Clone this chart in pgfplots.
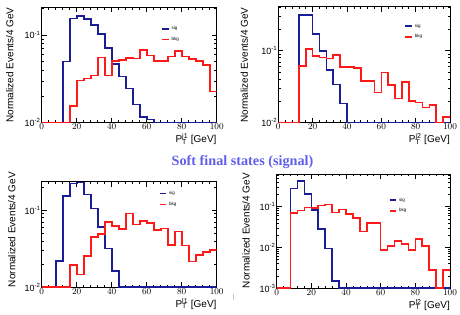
\documentclass[border=0pt]{standalone}
\usepackage{fontspec}
\setmainfont{Liberation Sans}
\newfontfamily\titlefont{Liberation Serif}
\usepackage{pgfplots}
\pgfplotsset{compat=1.18}
\definecolor{sigc}{RGB}{25,30,150}
\definecolor{bkgc}{RGB}{255,25,25}
\definecolor{titc}{RGB}{95,95,235}
\begin{document}
\begin{tikzpicture}[x=1pt,y=1pt]
\path[use as bounding box] (0,0) rectangle (460,315);
% Panel 1
\begin{axis}[scale only axis, ymode=log, xmin=0, xmax=100,
  xtick={0,20,...,100}, minor x tick num=4,
  tick align=inside, xtick pos=both, ytick pos=both,
  xticklabel pos=lower, yticklabel pos=left,
  major tick length=5pt, minor tick length=2.5pt,
  axis line style={line width=0.8pt},
  tick style={line width=0.6pt, black},
  tick label style={font=\fontsize{9}{10}\selectfont},
  xticklabel style={inner sep=0.8pt},
  yticklabel style={inner sep=1pt},
  minor ytick={0.02,0.03,0.04,0.05,0.06,0.07,0.08,0.09,0.2},
  label style={font=\fontsize{10}{12}\selectfont},
  xlabel style={at={(axis description cs:1,0)}, anchor=north east, inner sep=0pt, yshift=-11pt},
  ylabel style={at={(axis description cs:-0.16,0)}, anchor=south west, inner sep=0pt},
  ylabel={Normalized Events/4 GeV},
  legend style={draw=none, fill=none, inner sep=0pt, font=\fontsize{4.5}{5}\selectfont, row sep=2pt, at={(0.683,0.853)}, anchor=north west},
  legend cell align=left,
  legend image code/.code={\draw[#1, line width=1.5pt] (0pt,0pt) -- (6.7pt,0pt);},
  at={(41.7pt,307.7pt)}, anchor=north west, width=175pt, height=115.4pt,
  ymin=0.01, ymax=0.207, ytick={0.01,0.1}, yticklabels={10\textsuperscript{-2},10\textsuperscript{-1}},
  xlabel={P\makebox[0pt][l]{\textsubscript{T}}\textsuperscript{j1} [GeV]}]
\addplot[const plot mark left, sigc, line width=1.6pt, mark=none] coordinates {(0,0.01)(4,0.01)(8,0.01)(12,0.0497)(16,0.155)(20,0.166)(24,0.152)(28,0.130)(32,0.103)(36,0.0716)(40,0.0464)(44,0.0335)(48,0.0246)(52,0.0162)(56,0.0117)(60,0.0109)(64,0.01)(68,0.01)(72,0.01)(76,0.01)(80,0.01)(84,0.01)(88,0.01)(92,0.01)(96,0.01)(100,0.01)};
\addlegendentry{sig}
\addplot[const plot mark left, bkgc, line width=1.6pt, mark=none] coordinates {(0,0.01)(4,0.01)(8,0.01)(12,0.01)(16,0.0156)(20,0.0304)(24,0.0318)(28,0.0347)(32,0.0556)(36,0.0344)(40,0.0505)(44,0.0519)(48,0.0551)(52,0.0537)(56,0.0674)(60,0.0586)(64,0.0505)(68,0.0505)(72,0.0566)(76,0.0662)(80,0.0566)(84,0.0533)(88,0.0505)(92,0.0455)(96,0.0226)(100,0.0226)};
\addlegendentry{bkg}
\end{axis}
% Panel 2
\begin{axis}[scale only axis, ymode=log, xmin=0, xmax=100,
  xtick={0,20,...,100}, minor x tick num=4,
  tick align=inside, xtick pos=both, ytick pos=both,
  xticklabel pos=lower, yticklabel pos=left,
  major tick length=5pt, minor tick length=2.5pt,
  axis line style={line width=0.8pt},
  tick style={line width=0.6pt, black},
  tick label style={font=\fontsize{9}{10}\selectfont},
  xticklabel style={inner sep=0.8pt},
  yticklabel style={inner sep=1pt},
  minor ytick={0.02,0.03,0.04,0.05,0.06,0.07,0.08,0.09,0.2,0.3,0.4},
  label style={font=\fontsize{10}{12}\selectfont},
  xlabel style={at={(axis description cs:1,0)}, anchor=north east, inner sep=0pt, yshift=-11pt},
  ylabel style={at={(axis description cs:-0.175,0)}, anchor=south west, inner sep=0pt},
  ylabel={Normalized Events/4 GeV},
  legend style={draw=none, fill=none, inner sep=0pt, font=\fontsize{4.5}{5}\selectfont, row sep=2pt, at={(0.735,0.872)}, anchor=north west},
  legend cell align=left,
  legend image code/.code={\draw[#1, line width=1.5pt] (0pt,0pt) -- (6.7pt,0pt);},
  at={(278.3pt,308.3pt)}, anchor=north west, width=171.7pt, height=116pt,
  ymin=0.01, ymax=0.41, ytick={0.01,0.1}, yticklabels={10\textsuperscript{-2},10\textsuperscript{-1}},
  xlabel={P\makebox[0pt][l]{\textsubscript{T}}\textsuperscript{j2} [GeV]}]
\addplot[const plot mark left, sigc, line width=1.6pt, mark=none] coordinates {(0,0.01)(4,0.01)(8,0.01)(12,0.313)(16,0.313)(20,0.170)(24,0.099)(28,0.0539)(32,0.0341)(36,0.0186)(40,0.01)(44,0.01)(48,0.01)(52,0.01)(56,0.01)(60,0.01)(64,0.01)(68,0.01)(72,0.01)(76,0.01)(80,0.01)(84,0.01)(88,0.01)(92,0.01)(96,0.01)(100,0.01)};
\addlegendentry{sig}
\addplot[const plot mark left, bkgc, line width=1.6pt, mark=none] coordinates {(0,0.01)(4,0.01)(8,0.01)(12,0.0619)(16,0.105)(20,0.0843)(24,0.0808)(28,0.078)(32,0.087)(36,0.060)(40,0.060)(44,0.0574)(48,0.038)(52,0.038)(56,0.0264)(60,0.050)(64,0.0334)(68,0.0218)(72,0.0371)(76,0.0202)(80,0.019)(84,0.0162)(88,0.0176)(92,0.01)(96,0.0119)(100,0.0119)};
\addlegendentry{bkg}
\end{axis}
% Title
\node[font=\titlefont\bfseries\fontsize{14.2}{16}\selectfont, text=titc] at (242.5,153.3) {Soft final states (signal)};
% Panel 3
\begin{axis}[scale only axis, ymode=log, xmin=0, xmax=100,
  xtick={0,20,...,100}, minor x tick num=4,
  tick align=inside, xtick pos=both, ytick pos=both,
  xticklabel pos=lower, yticklabel pos=left,
  major tick length=5pt, minor tick length=2.5pt,
  axis line style={line width=0.8pt},
  tick style={line width=0.6pt, black},
  tick label style={font=\fontsize{9}{10}\selectfont},
  xticklabel style={inner sep=0.8pt},
  yticklabel style={inner sep=1pt},
  minor ytick={0.02,0.03,0.04,0.05,0.06,0.07,0.08,0.09,0.2},
  label style={font=\fontsize{10}{12}\selectfont},
  xlabel style={at={(axis description cs:1,0)}, anchor=north east, inner sep=0pt, yshift=-11pt},
  ylabel style={at={(axis description cs:-0.149,0)}, anchor=south west, inner sep=0pt},
  ylabel={Normalized Events/4 GeV},
  legend style={draw=none, fill=none, inner sep=0pt, font=\fontsize{4.5}{5}\selectfont, row sep=2pt, at={(0.669,0.931)}, anchor=north west},
  legend cell align=left,
  legend image code/.code={\draw[#1, line width=1.5pt] (0pt,0pt) -- (6.7pt,0pt);},
  at={(41.7pt,133.3pt)}, anchor=north west, width=175pt, height=105.6pt,
  ymin=0.01, ymax=0.233, ytick={0.01,0.1}, yticklabels={10\textsuperscript{-2},10\textsuperscript{-1}},
  xlabel={P\makebox[0pt][l]{\textsubscript{T}}\textsuperscript{l1} [GeV]}]
\addplot[const plot mark left, sigc, line width=1.6pt, mark=none] coordinates {(0,0.01)(4,0.01)(8,0.0219)(12,0.152)(16,0.221)(20,0.228)(24,0.159)(28,0.105)(32,0.0609)(36,0.0319)(40,0.0163)(44,0.01)(48,0.01)(52,0.01)(56,0.01)(60,0.01)(64,0.01)(68,0.01)(72,0.01)(76,0.01)(80,0.01)(84,0.01)(88,0.01)(92,0.01)(96,0.01)(100,0.01)};
\addlegendentry{sig}
\addplot[const plot mark left, bkgc, line width=1.6pt, mark=none] coordinates {(0,0.01)(4,0.01)(8,0.01)(12,0.01)(16,0.0194)(20,0.0147)(24,0.0254)(28,0.0448)(32,0.049)(36,0.0706)(40,0.0627)(44,0.0568)(48,0.0906)(52,0.0653)(56,0.0721)(60,0.0686)(64,0.0551)(68,0.058)(72,0.0353)(76,0.0525)(80,0.0346)(84,0.0215)(88,0.0262)(92,0.0284)(96,0.0304)(100,0.0304)};
\addlegendentry{bkg}
\end{axis}
% Panel 4
\begin{axis}[scale only axis, ymode=log, xmin=0, xmax=100,
  xtick={0,20,...,100}, minor x tick num=4,
  tick align=inside, xtick pos=both, ytick pos=both,
  xticklabel pos=lower, yticklabel pos=left,
  major tick length=5pt, minor tick length=2.5pt,
  axis line style={line width=0.8pt},
  tick style={line width=0.6pt, black},
  tick label style={font=\fontsize{9}{10}\selectfont},
  xticklabel style={inner sep=0.8pt},
  yticklabel style={inner sep=1pt},
  minor ytick={0.002,0.003,0.004,0.005,0.006,0.007,0.008,0.009,0.02,0.03,0.04,0.05,0.06,0.07,0.08,0.09,0.2,0.3,0.4,0.5,0.6},
  label style={font=\fontsize{10}{12}\selectfont},
  xlabel style={at={(axis description cs:1,0)}, anchor=north east, inner sep=0pt, yshift=-11pt},
  ylabel style={at={(axis description cs:-0.154,0)}, anchor=south west, inner sep=0pt},
  ylabel={Normalized Events/4 GeV},
  legend style={draw=none, fill=none, inner sep=0pt, font=\fontsize{4.5}{5}\selectfont, row sep=2pt, at={(0.647,0.811)}, anchor=north west},
  legend cell align=left,
  legend image code/.code={\draw[#1, line width=1.5pt] (0pt,0pt) -- (6.7pt,0pt);},
  at={(276.7pt,141pt)}, anchor=north west, width=173.3pt, height=114.3pt,
  ymin=0.001, ymax=0.63, ytick={0.001,0.01,0.1}, yticklabels={10\textsuperscript{-3},10\textsuperscript{-2},10\textsuperscript{-1}},
  xlabel={P\makebox[0pt][l]{\textsubscript{T}}\textsuperscript{l2} [GeV]}]
\addplot[const plot mark left, sigc, line width=1.6pt, mark=none] coordinates {(0,0.001)(4,0.001)(8,0.281)(12,0.425)(16,0.204)(20,0.0828)(24,0.0284)(28,0.0095)(32,0.0015)(36,0.001)(40,0.001)(44,0.001)(48,0.001)(52,0.001)(56,0.001)(60,0.001)(64,0.001)(68,0.001)(72,0.001)(76,0.001)(80,0.001)(84,0.001)(88,0.001)(92,0.001)(96,0.001)(100,0.001)};
\addlegendentry{sig}
\addplot[const plot mark left, bkgc, line width=1.6pt, mark=none] coordinates {(0,0.001)(4,0.001)(8,0.0687)(12,0.0798)(16,0.0946)(20,0.093)(24,0.106)(28,0.114)(32,0.0713)(36,0.086)(40,0.0649)(44,0.0518)(48,0.0244)(52,0.0391)(56,0.0391)(60,0.0087)(64,0.0109)(68,0.0144)(72,0.0122)(76,0.0087)(80,0.0161)(84,0.0109)(88,0.0028)(92,0.001)(96,0.0028)(100,0.0028)};
\addlegendentry{bkg}
\end{axis}
\draw[gray!45, line width=0.6pt] (233,15) -- (233,21);
\end{tikzpicture}
\end{document}
